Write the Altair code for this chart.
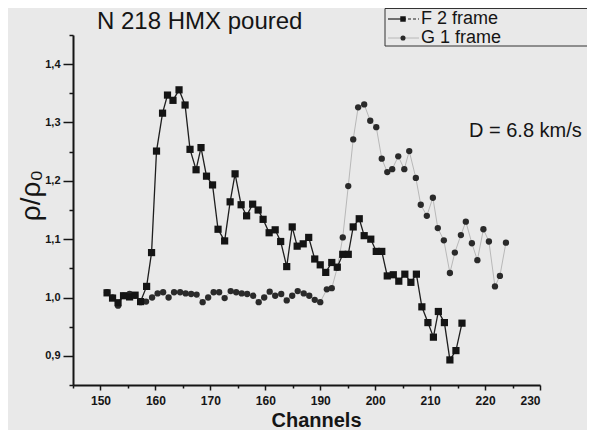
import altair as alt
import pandas as pd

# ---- data ----
f_ch = [151.2, 152.2, 153.2, 154.2, 155.3, 156.3, 157.3,
        158.4, 159.3, 160.2, 161.3, 162.2, 163.2, 164.3, 165.4, 166.3, 167.4,
        168.3, 169.3, 170.4, 171.4, 172.6, 173.6, 174.5, 175.6, 176.6, 177.7,
        178.7, 179.6, 180.7, 181.8, 182.8, 183.9, 184.9, 185.8, 186.9, 187.9,
        189.0, 190.0, 191.0, 192.1, 193.1, 194.1, 195.1, 196.0, 197.1, 198.0,
        199.2, 200.2, 201.2, 202.2, 203.3, 204.3, 205.4, 206.5, 207.5, 208.5,
        209.6, 210.6, 211.5, 212.6, 213.6, 214.7, 215.8]
f_val = [1.008, 0.999, 0.991, 1.003, 1.001, 1.004, 0.993,
         1.019, 1.077, 1.251, 1.316, 1.347, 1.338, 1.356, 1.330, 1.254, 1.219,
         1.257, 1.208, 1.193, 1.117, 1.097, 1.164, 1.212, 1.159, 1.140, 1.160,
         1.150, 1.134, 1.111, 1.116, 1.096, 1.053, 1.121, 1.088, 1.092, 1.103,
         1.066, 1.056, 1.043, 1.060, 1.052, 1.074, 1.074, 1.121, 1.135, 1.106,
         1.100, 1.079, 1.079, 1.037, 1.039, 1.028, 1.040, 1.026, 1.040, 0.984,
         0.957, 0.932, 0.976, 0.957, 0.893, 0.909, 0.956]

g_ch = [151.2, 152.2, 153.2, 154.2, 155.3, 156.3, 157.3, 158.3, 159.4, 160.4,
        161.4, 162.4, 163.4, 164.5, 165.5, 166.5, 167.5, 168.6, 169.6, 170.6,
        171.6, 172.6, 173.7, 174.7, 175.7, 176.7, 177.8, 178.8, 179.8, 180.8,
        181.8, 182.9, 183.9, 184.9, 185.9, 187.0, 188.0, 189.0, 190.0,
        191.2, 192.1, 193.1, 194.1, 195.1, 196.0, 196.9, 198.0, 199.1, 200.2,
        201.2, 202.2, 203.1, 204.2, 205.3, 206.2, 207.4, 208.3, 209.4, 210.5,
        211.4, 212.5, 213.6, 214.5, 215.6, 216.5, 217.6, 218.6, 219.7, 220.7,
        221.8, 222.7, 223.8]
g_val = [1.009, 1.000, 0.986, 1.003, 1.006, 1.003, 0.992, 0.993, 1.000, 1.007,
         1.009, 1.000, 1.009, 1.009, 1.007, 1.006, 1.005, 0.992, 1.000, 1.009,
         1.009, 0.999, 1.011, 1.009, 1.007, 1.006, 1.003, 0.992, 1.000, 1.010,
         1.003, 1.006, 0.995, 1.003, 1.011, 1.007, 1.003, 0.996, 0.992,
         1.014, 1.016, 1.051, 1.103, 1.191, 1.271, 1.326, 1.331, 1.303, 1.292,
         1.238, 1.215, 1.220, 1.242, 1.220, 1.251, 1.205, 1.159, 1.140, 1.171,
         1.119, 1.098, 1.042, 1.077, 1.107, 1.130, 1.093, 1.064, 1.117, 1.096,
         1.019, 1.037, 1.094]

x_ticks = [145, 150, 155, 160, 165, 170, 175, 180, 185, 190, 195, 200, 205,
           210, 215, 220, 225, 230]
y_ticks = [0.85, 0.9, 0.95, 1.0, 1.05, 1.1, 1.15, 1.2, 1.25, 1.3, 1.35, 1.4, 1.45]

title_text = "N 218  HMX poured"
legend_labels = ["F 2 frame", "G 1 frame"]
note_text = "D = 6.8 km/s"
x_title = "Channels"
y_title = "ρ/ρ₀"

FONT = "Liberation Sans"
INK = "#151515"
BG = "#e9e9e9"

df_f = pd.DataFrame({"ch": f_ch, "v": f_val})
df_g = pd.DataFrame({"ch": g_ch, "v": g_val})

xscale = alt.Scale(domain=[145, 230], nice=False, zero=False)
yscale = alt.Scale(domain=[0.85, 1.45], nice=False, zero=False)

xaxis = alt.Axis(
    values=x_ticks, title=x_title, grid=False,
    labelExpr="datum.value % 10 == 0 ? (datum.value == 180 ? '160' : datum.label) : ''",
    tickSize={"condition": {"test": "datum.value % 10 == 0", "value": 5}, "value": 3},
    labelPadding=5, labelFont=FONT, labelFontSize=12, labelFontWeight="bold",
    labelColor=INK, titleFont=FONT, titleFontSize=20, titleFontWeight="bold",
    titleColor=INK, titleX=243, titleY=35, titleBaseline="middle",
    titleAnchor="start", titleAlign="center",
    domainColor=INK, domainWidth=2, tickColor=INK, tickWidth=1.5,
)
yaxis = alt.Axis(
    values=y_ticks, title=y_title, grid=False,
    labelExpr="round(datum.value*100) % 10 == 0 ? replace(format(datum.value, '.1f'), '.', ',') : ''",
    tickSize={"condition": {"test": "round(datum.value*100) % 10 == 0", "value": 10}, "value": 4},
    labelPadding=3, labelFont=FONT, labelFontSize=11, labelFontWeight="bold",
    labelColor=INK, titleFont=FONT, titleFontSize=28, titleFontWeight="normal",
    titleColor=INK, titleX=-42, titleY=160, titleAngle=270, titleBaseline="middle",
    titleAlign="center",
    domainColor=INK, domainWidth=2, tickColor=INK, tickWidth=1.5,
)

x_enc = alt.X("ch:Q", scale=xscale, axis=xaxis)
y_enc = alt.Y("v:Q", scale=yscale, axis=yaxis)

g_line = alt.Chart(df_g).mark_line(color="#b8b8b8", strokeWidth=1).encode(
    x=x_enc, y=y_enc, order="ch:Q")
g_pts = alt.Chart(df_g).mark_point(shape="circle", filled=True, size=40,
                                   color="#2a2a2a", opacity=1).encode(x=x_enc, y=y_enc)
f_line = alt.Chart(df_f).mark_line(color="#1e1e1e", strokeWidth=1.3).encode(
    x=x_enc, y=y_enc, order="ch:Q")
f_pts = alt.Chart(df_f).mark_point(shape="square", filled=True, size=52,
                                   color="#141414", opacity=1).encode(x=x_enc, y=y_enc)

one = pd.DataFrame({"t": [title_text]})
title_mark = alt.Chart(one).mark_text(
    font=FONT, fontSize=24, align="left", baseline="alphabetic", color=INK
).encode(text="t:N", x=alt.value(24), y=alt.value(-6))

note_df = pd.DataFrame({"t": [note_text]})
note_mark = alt.Chart(note_df).mark_text(
    font=FONT, fontSize=20, align="left", baseline="middle", color=INK
).encode(text="t:N", x=alt.value(396), y=alt.value(96))

box_df = pd.DataFrame({"t": ["box"]})
legend_box = alt.Chart(box_df).mark_rect(
    fill=BG, stroke="#333333", strokeWidth=1
).encode(x=alt.value(312), x2=alt.value(530), y=alt.value(-26.5), y2=alt.value(11))

lf = pd.DataFrame({"t": [legend_labels[0]]})
lg = pd.DataFrame({"t": [legend_labels[1]]})
leg_f_line = alt.Chart(lf).mark_rule(color="#1e1e1e", strokeWidth=1.2).encode(
    x=alt.value(315), x2=alt.value(330), y=alt.value(-16))
leg_f_dash = alt.Chart(lf).mark_rule(color="#1e1e1e", strokeWidth=1.2,
                                     strokeDash=[3, 2]).encode(
    x=alt.value(330), x2=alt.value(346), y=alt.value(-16))
leg_f_pt = alt.Chart(lf).mark_point(shape="square", filled=True, size=30,
                                    color="#141414", opacity=1).encode(
    x=alt.value(330), y=alt.value(-16))
leg_f_txt = alt.Chart(lf).mark_text(font=FONT, fontSize=18, align="left",
                                    baseline="middle", color=INK).encode(
    text="t:N", x=alt.value(348), y=alt.value(-16))
leg_g_line = alt.Chart(lg).mark_rule(color="#b8b8b8", strokeWidth=1).encode(
    x=alt.value(315), x2=alt.value(346), y=alt.value(3))
leg_g_pt = alt.Chart(lg).mark_point(shape="circle", filled=True, size=26,
                                    color="#2a2a2a", opacity=1).encode(
    x=alt.value(330), y=alt.value(3))
leg_g_txt = alt.Chart(lg).mark_text(font=FONT, fontSize=18, align="left",
                                    baseline="middle", color=INK).encode(
    text="t:N", x=alt.value(348), y=alt.value(3))

chart = alt.layer(
    g_line, g_pts, f_line, f_pts, title_mark, note_mark,
    legend_box, leg_f_line, leg_f_dash, leg_f_pt, leg_f_txt,
    leg_g_line, leg_g_pt, leg_g_txt
).properties(
    width=467, height=350,
    autosize=alt.AutoSizeParams(type="none"),
    padding={"left": 65, "top": 27, "right": 47, "bottom": 45},
    background=BG,
).configure_view(stroke=None)

chart.save("out.html", embed_options={"renderer": "svg", "actions": False})
